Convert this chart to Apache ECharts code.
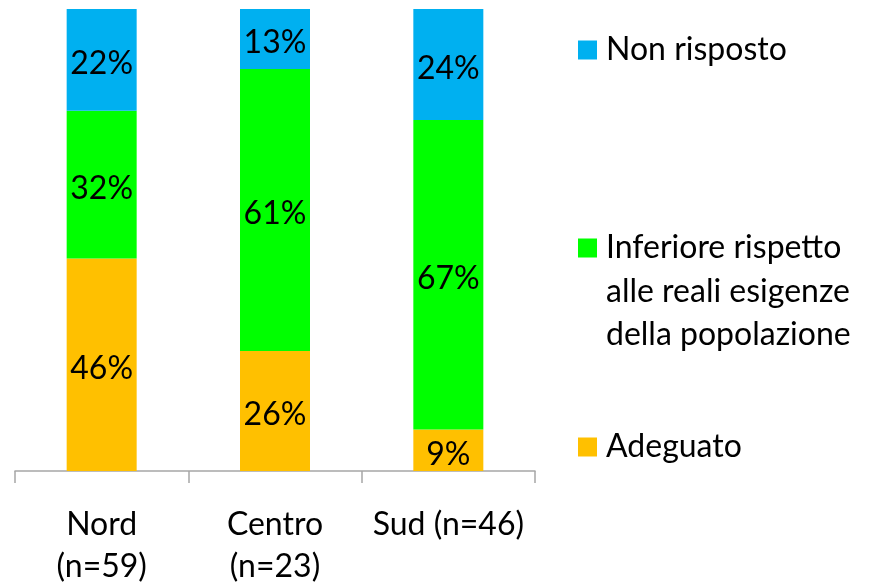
<!DOCTYPE html>
<html>
<head>
<meta charset="utf-8">
<script src="https://cdn.jsdelivr.net/npm/echarts@6/dist/echarts.min.js"></script>
<style>
  html, body { margin: 0; padding: 0; background: #fff; }
  #chart { width: 872px; height: 583px; }
</style>
</head>
<body>
<div id="chart"></div>
<script>
// Areas and their sample sizes
const categories = ['Nord\n(n=59)', 'Centro\n(n=23)', 'Sud (n=46)'];

// Share of answers per area (%), bottom to top of each stack
const adeguato = [46, 26, 9];
const inferiore = [32, 61, 67];
const nonRisposto = [22, 13, 24];

const seriesNames = [
  'Adeguato',
  'Inferiore rispetto\nalle reali esigenze\ndella popolazione',
  'Non risposto'
];

const FONT = 'Lato';
const FS = 32;
const LEGEND_LH = 43.5;
const SWATCH = 19;
const colors = ['#FFC000', '#00FF00', '#00B0F0'];

const chart = echarts.init(document.getElementById('chart'), null, { renderer: 'canvas' });

function barSeries(name, data, color) {
  return {
    name: name,
    type: 'bar',
    stack: 'total',
    data: data,
    barWidth: 70,
    itemStyle: { color: color },
    label: {
      show: true,
      position: 'inside',
      offset: [0, 4],
      formatter: '{c}%',
      color: '#000',
      fontFamily: FONT,
      fontSize: FS
    },
    emphasis: { disabled: true }
  };
}

// one legend per entry so each can sit at its own height;
// for multi-line names the swatch stays level with the first line
function legendFor(name, iconCenter, lines) {
  const extra = (lines - 1) * LEGEND_LH;
  const h = SWATCH + extra;
  const icon = lines > 1
    ? 'path://M0,0L' + SWATCH + ',0L' + SWATCH + ',' + SWATCH + 'L0,' + SWATCH + 'Z' +
      'M0,' + h + 'L0.001,' + h + 'Z'
    : 'rect';
  return {
    data: [{ name: name, icon: icon }],
    orient: 'vertical',
    left: 578,
    top: iconCenter - LEGEND_LH / 2,
    padding: 0,
    itemWidth: SWATCH,
    itemHeight: h,
    selectedMode: false,
    textStyle: {
      fontFamily: FONT,
      fontSize: FS,
      color: '#000',
      lineHeight: LEGEND_LH,
      padding: [0, 0, 0, 4]
    }
  };
}

chart.setOption({
  animation: false,
  color: colors,
  grid: {
    left: 15, width: 520, top: 9, height: 462,
    containLabel: false,
    outerBoundsMode: 'none'
  },
  legend: [
    legendFor(seriesNames[2], 50, 1),
    legendFor(seriesNames[1], 248, 3),
    legendFor(seriesNames[0], 447, 1)
  ],
  xAxis: {
    type: 'category',
    data: categories,
    axisLine: { show: true, lineStyle: { color: '#A6A6A6', width: 1.5 } },
    axisTick: { show: true, length: 12, lineStyle: { color: '#A6A6A6', width: 1.5 } },
    axisLabel: {
      color: '#000',
      fontFamily: FONT,
      fontSize: FS,
      lineHeight: 42,
      margin: 33,
      interval: 0
    }
  },
  yAxis: {
    type: 'value',
    min: 0,
    max: 100,
    show: false
  },
  series: [
    barSeries(seriesNames[0], adeguato, colors[0]),
    barSeries(seriesNames[1], inferiore, colors[1]),
    barSeries(seriesNames[2], nonRisposto, colors[2])
  ]
});
</script>
</body>
</html>
